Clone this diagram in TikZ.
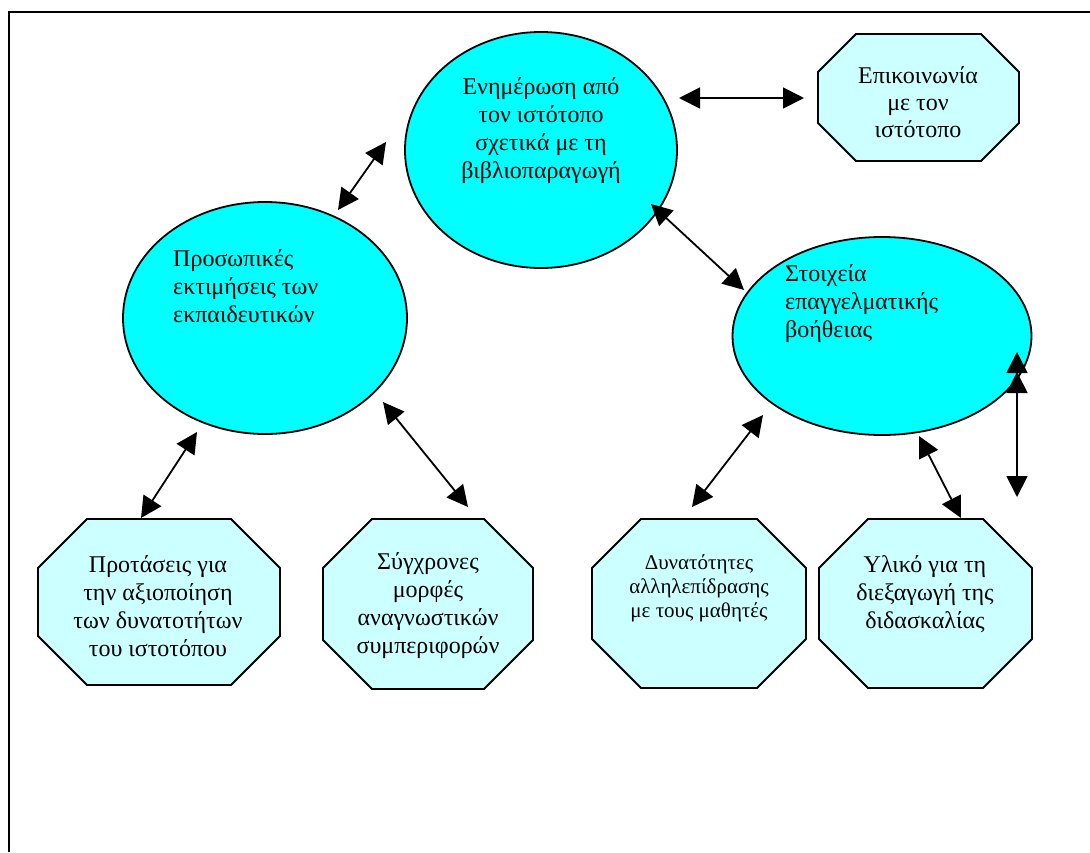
\documentclass[tikz,border=0pt]{standalone}
\usepackage{fontspec}
\setmainfont{Liberation Serif}
\usetikzlibrary{arrows.meta,shapes.geometric}
\definecolor{kyan}{HTML}{00FFFF}
\definecolor{hellkyan}{HTML}{CCFFFF}
\tikzset{
  oval/.style={ellipse, draw, line width=1.8pt, fill=kyan, inner sep=0pt},
  octline/.style={draw, line width=1.8pt, fill=hellkyan, line join=miter},
  txt/.style={font=\fontsize{24}{28}\selectfont, inner sep=0pt},
  pfeil/.style={line width=1.8pt, {Triangle[length=21pt,width=21pt]}-{Triangle[length=21pt,width=21pt]}},
}
% name, x, y, breite, hoehe, ecke
\newcommand{\octbox}[6]{%
  \node[minimum width=#4pt, minimum height=#5pt, inner sep=0pt] (#1) at (#2,#3) {};
  \path[octline] (#2-#4/2+#6,#3-#5/2) -- (#2+#4/2-#6,#3-#5/2) -- (#2+#4/2,#3-#5/2+#6)
    -- (#2+#4/2,#3+#5/2-#6) -- (#2+#4/2-#6,#3+#5/2) -- (#2-#4/2+#6,#3+#5/2)
    -- (#2-#4/2,#3+#5/2-#6) -- (#2-#4/2,#3-#5/2+#6) -- cycle;
}
\begin{document}
\begin{tikzpicture}[x=1pt,y=-1pt]
  \useasboundingbox (0,0) rectangle (1090,852);
  % Rahmen
  \draw[line width=2.2pt] (9,852) -- (9,12) -- (1090,12);
  % Ellipsen
  \node[oval, minimum width=272pt, minimum height=236pt] (info) at (541,150) {};
  \node[oval, minimum width=284pt, minimum height=232pt] (views) at (265,318) {};
  \node[oval, minimum width=299pt, minimum height=198pt] (help) at (882,336) {};
  % Achtecke
  \octbox{contact}{918.5}{97.5}{201}{127}{38}
  \octbox{ideas}{159}{602}{242}{166}{49}
  \octbox{forms}{428}{604}{210}{170}{49}
  \octbox{pupils}{699}{603.5}{214}{169}{49}
  \octbox{material}{925.5}{603.5}{213}{169}{49}
  % Texte
  \node[txt, align=center] (infot) at (541,131) {Ενημέρωση από\\τον ιστότοπο\\σχετικά με τη\\βιβλιοπαραγωγή};
  \node[txt, align=left, anchor=west] (viewst) at (173,286) {Προσωπικές\\εκτιμήσεις των\\εκπαιδευτικών};
  \node[txt, align=left, anchor=west] (helpt) at (785,304) {Στοιχεία\\επαγγελματικής\\βοήθειας};
  \node[txt, align=center, font=\fontsize{24}{27}\selectfont] (contactt) at (918,102) {Επικοινωνία\\με τον\\ιστότοπο};
  \node[txt, align=center] (ideast) at (158,606) {Προτάσεις για\\την αξιοποίηση\\των δυνατοτήτων\\του ιστοτόπου};
  \node[txt, align=center] (formst) at (428,606) {Σύγχρονες\\μορφές\\αναγνωστικών\\συμπεριφορών};
  \node[txt, align=center, font=\fontsize{21}{24}\selectfont] (pupilst) at (699,588) {Δυνατότητες\\αλληλεπίδρασης\\με τους μαθητές};
  \node[txt, align=center] (materialt) at (925,594) {Υλικό για τη\\διεξαγωγή της\\διδασκαλίας};
  % Pfeilenden
  \coordinate (A) at (679,98);   \coordinate (A') at (804,98);
  \coordinate (B) at (386,142);  \coordinate (B') at (338,210);
  \coordinate (C) at (651,204);  \coordinate (C') at (744,290);
  \coordinate (D) at (197,432);  \coordinate (D') at (141,518);
  \coordinate (E) at (383,402);  \coordinate (E') at (468,507);
  \coordinate (F) at (763,415);  \coordinate (F') at (692,507);
  \coordinate (G) at (919,436);  \coordinate (G') at (961,518);
  \coordinate (H) at (1017,372); \coordinate (H') at (1017,497);
  \coordinate (H'') at (1017,352);
  % Pfeile
  \draw[pfeil] (A) -- (A');
  \draw[pfeil] (B) -- (B');
  \draw[pfeil] (C) -- (C');
  \draw[pfeil] (D) -- (D');
  \draw[pfeil] (E) -- (E');
  \draw[pfeil] (F) -- (F');
  \draw[pfeil] (G) -- (G');
  \draw[pfeil] (H) -- (H');
  \draw[line width=1.8pt, -{Triangle[length=21pt,width=21pt]}] (H) -- (H'');
\end{tikzpicture}
\end{document}
